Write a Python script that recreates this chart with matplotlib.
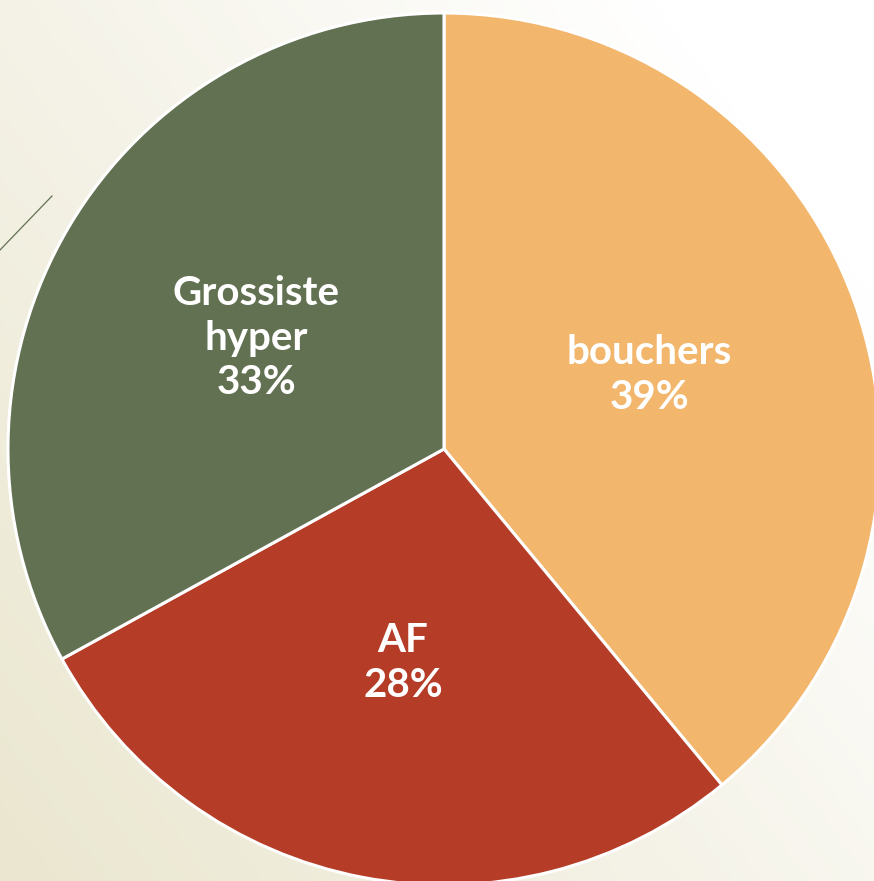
import numpy as np
from matplotlib import pyplot as plt
from matplotlib.lines import Line2D

# -------------------------
# data
# -------------------------
labels = ['bouchers', 'AF', 'Grossiste\nhyper']
shares = [39, 28, 33]
colors = ['#F2B66D', '#B53C26', '#637153']

fig = plt.figure(figsize=(8.74, 8.81), dpi=100)

# background gradient (beige bottom-left -> white top-right)
bg = fig.add_axes([0, 0, 1, 1])
bg.set_axis_off()
yy, xx = np.mgrid[0:1:200j, 0:1:200j]
t = np.clip((xx * 0.8 + yy * 0.6) / 1.2, 0, 1)
c0 = np.array([0.918, 0.902, 0.812])
c1 = np.array([1.0, 1.0, 1.0])
img = c0[None, None, :] * (1 - t[..., None]) + c1[None, None, :] * t[..., None]
bg.imshow(img, origin='lower', extent=[0, 1, 0, 1], aspect='auto')
bg.set_xlim(0, 1)
bg.set_ylim(0, 1)

# thin decorative line on the left edge
fig.add_artist(Line2D([0, 52 / 874], [1 - 250 / 881, 1 - 196 / 881],
                      color='#637153', lw=0.9))

ax = fig.add_axes([0, 0, 1, 1])
ax.set_axis_off()
wedges, texts = ax.pie(shares, colors=colors, startangle=90, counterclock=False,
                       radius=1.0, center=(0, 0),
                       wedgeprops=dict(edgecolor='white', linewidth=2.2),
                       frame=False)
for w, lab, s in zip(wedges, labels, shares):
    ang = np.deg2rad((w.theta1 + w.theta2) / 2)
    ax.text(0.5 * np.cos(ang), 0.5 * np.sin(ang), lab + '\n' + str(s) + '%',
            ha='center', va='center', color='white', fontsize=29,
            fontweight='bold', family='Lato', linespacing=1.25)

ax.set_xlim(-444 / 436, (874 - 444) / 436)
ax.set_ylim(-(881 - 449) / 436, 449 / 436)
ax.set_aspect('auto')

plt.savefig('out.png', dpi=100)
